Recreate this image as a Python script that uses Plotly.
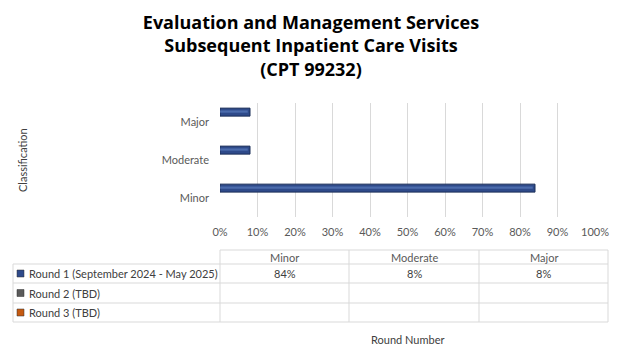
import plotly.graph_objects as go

categories = ["Minor", "Moderate", "Major"]
round1_values = [84, 8, 8]
series_names = ["Round 1 (September 2024 - May 2025)", "Round 2 (TBD)", "Round 3 (TBD)"]
series_colors = ["#2E4A8A", "#5A5A5A", "#C55A11"]
x_ticks = list(range(0, 101, 10))
x_tick_labels = [f"{t}%" for t in x_ticks]

# page has an 8px body margin; work in screen pixels and convert
OFF = 8
W, H = 624 - OFF, 364 - OFF
L, T = 220 - OFF, 103 - OFF
R = W - (595 - OFF)
B = H - (217 - OFF)
PW, PH = W - L - R, H - T - B


def px(x):
    return (x - OFF - L) / PW


def py(y):
    return (H - B - (y - OFF)) / PH


fig = go.Figure()
fig.add_trace(go.Bar(
    y=categories, x=round1_values, orientation="h",
    marker=dict(color="#2E4A8A", line=dict(color="#1B2E58", width=1)),
    width=0.21, offset=0.155, name=series_names[0], showlegend=False,
    hoverinfo="skip",
))
# highlight stripe for the bevelled look
fig.add_trace(go.Bar(
    y=categories, x=[v - 0.6 for v in round1_values], orientation="h",
    marker=dict(color="rgba(100,135,200,0.55)", line=dict(width=0)),
    width=0.06, offset=0.245, showlegend=False, hoverinfo="skip",
))

shapes = []
annotations = []
grid_c = "#D9D9D9"
txt_c = "#595959"
font = "Lato, Open Sans, sans-serif"

# table geometry (screen pixels)
col_x = [13, 220, 349, 479, 608]
row_y = [250, 264, 283, 303, 322]


def line(x0, y0, x1, y1):
    shapes.append(dict(type="line", xref="paper", yref="paper",
                       x0=px(x0), y0=py(y0), x1=px(x1), y1=py(y1),
                       line=dict(color=grid_c, width=1)))


def text(x, y, s, color="#404040", xanchor="center", angle=0):
    annotations.append(dict(xref="paper", yref="paper", x=px(x), y=py(y),
                            xanchor=xanchor, yanchor="middle", text=s,
                            textangle=angle, showarrow=False,
                            font=dict(size=11, color=color, family=font)))


line(col_x[1], row_y[0], col_x[4], row_y[0])
for yy in row_y[1:]:
    line(col_x[0], yy, col_x[4], yy)
line(col_x[0], row_y[1], col_x[0], row_y[4])
for xx in col_x[1:]:
    line(xx, row_y[0], xx, row_y[4])
# outer chart border right edge
line(622, 0, 622, 364)

for i, c in enumerate(categories):
    text((col_x[i + 1] + col_x[i + 2]) / 2, (row_y[0] + row_y[1]) / 2, c, color=txt_c)
for i, v in enumerate(round1_values):
    text((col_x[i + 1] + col_x[i + 2]) / 2, (row_y[1] + row_y[2]) / 2, f"{v}%")
for r, (name, col) in enumerate(zip(series_names, series_colors)):
    yc = (row_y[r + 1] + row_y[r + 2]) / 2
    shapes.append(dict(type="rect", xref="paper", yref="paper",
                       x0=px(17), x1=px(24), y0=py(yc - 3.5), y1=py(yc + 3.5),
                       fillcolor=col, line=dict(color="#333333", width=0.5)))
    text(27, yc, name, xanchor="left")

text(407, 339, "Round Number")
text(22, 160, "Classification", angle=-90)

fig.update_layout(
    width=W, height=H,
    margin=dict(l=L, r=R, t=T, b=B, autoexpand=False),
    paper_bgcolor="white", plot_bgcolor="white",
    title=dict(text="<b>Evaluation and Management Services<br>Subsequent Inpatient Care Visits<br>(CPT 99232)</b>",
               x=(311 - OFF) / W, xref="container", xanchor="center",
               y=1 - 21 / H, yanchor="top",
               font=dict(size=18, color="#000000", family="Open Sans, sans-serif")),
    barmode="overlay",
    shapes=shapes, annotations=annotations,
    showlegend=False,
)
fig.update_xaxes(range=[0, 100], tickvals=x_ticks, ticktext=x_tick_labels,
                 showgrid=True, gridcolor=grid_c, gridwidth=1, zeroline=False,
                 showline=False, tickfont=dict(size=11, color=txt_c, family=font),
                 ticklabelstandoff=7, fixedrange=True)
fig.update_yaxes(categoryorder="array", categoryarray=categories, range=[-0.5, 2.5],
                 showgrid=False, zeroline=False, showline=False,
                 tickfont=dict(size=11, color=txt_c, family=font), ticklabelstandoff=10,
                 fixedrange=True)

fig.write_html("out.html")
